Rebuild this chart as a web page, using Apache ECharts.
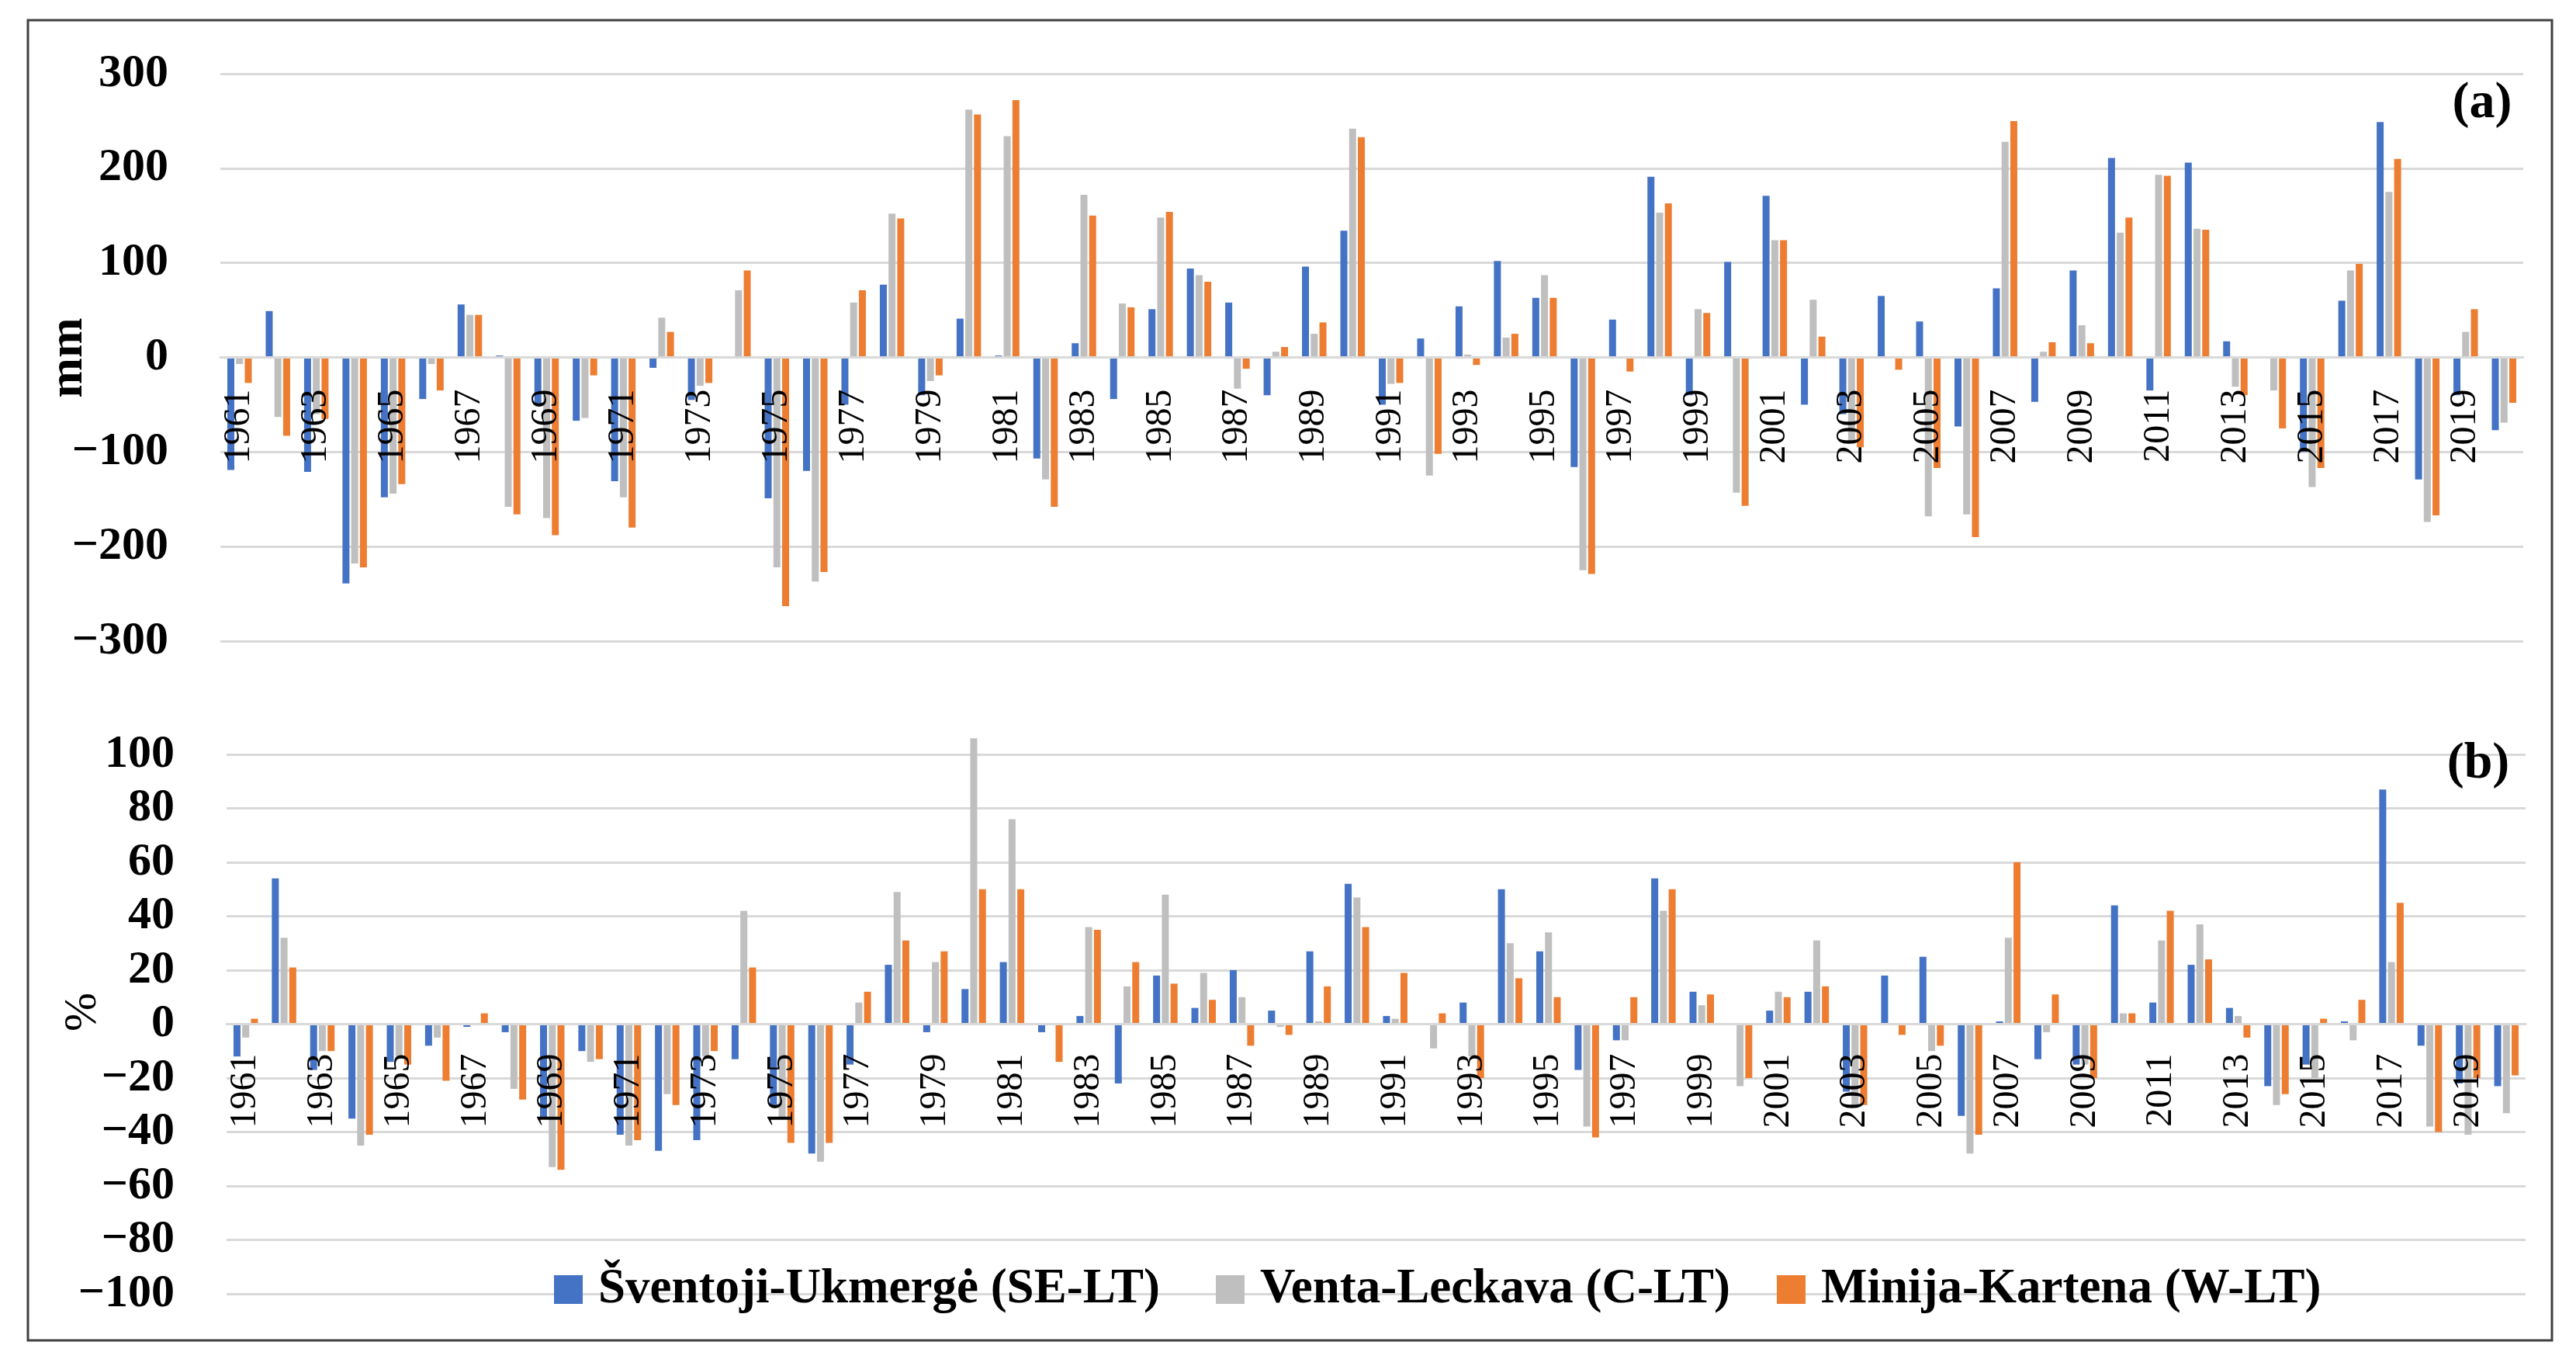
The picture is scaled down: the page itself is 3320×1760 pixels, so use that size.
<!DOCTYPE html>
<html>
<head>
<meta charset="utf-8">
<script src="https://cdn.jsdelivr.net/npm/echarts@6/dist/echarts.min.js"></script>
<style>
html,body{margin:0;padding:0;background:#fff;}
#chart{width:3320px;height:1760px;}
</style>
</head>
<body>
<div id="chart"></div>
<script>
const years = [];
for (let y = 1961; y <= 2020; y++) years.push(String(y));

const seriesNames = ['Šventoji-Ukmergė (SE-LT)', 'Venta-Leckava (C-LT)', 'Minija-Kartena (W-LT)'];

// Panel (a): anomalies, mm
const mmSE = [-119, 49, -121, -239, -148, -44, 56, 2, -50, -67,
  -131, -11, -45, -1, -149, -120, -50, 77, -40, 41,
  2, -107, 15, -44, 51, 94, 58, -40, 96, 134,
  -50, 20, 54, 102, 63, -116, 40, 191, -40, 101,
  171, -50, -60, 65, 38, -73, 73, -47, 92, 211,
  -35, 206, 17, 0, -100, 60, 249, -129, -40, -77];
const mmC = [-7, -63, -60, -218, -144, -7, 45, -158, -170, -64,
  -148, 42, -30, 71, -222, -237, 58, 152, -25, 262,
  234, -129, 172, 57, 148, 87, -33, 6, 25, 242,
  -28, -125, 3, 21, 87, -225, 1, 153, 51, -143,
  124, 61, -90, 0, -168, -166, 228, 6, 34, 132,
  193, 136, -31, -35, -137, 92, 175, -174, 27, -69];
const mmW = [-27, -83, -65, -222, -134, -35, 45, -166, -188, -19,
  -180, 27, -27, 92, -263, -227, 71, 147, -19, 257,
  272, -158, 150, 53, 154, 80, -12, 11, 37, 233,
  -27, -102, -8, 25, 63, -229, -15, 163, 47, -157,
  124, 22, -95, -13, -117, -190, 250, 16, 15, 148,
  192, 135, -40, -75, -117, 99, 210, -167, 51, -48];

// Panel (b): anomalies, %
const pctSE = [-12, 54, -17, -35, -14, -8, -1, -3, -35, -10,
  -41, -47, -43, -13, -30, -48, -15, 22, -3, 13,
  23, -3, 3, -22, 18, 6, 20, 5, 27, 52,
  3, 0, 8, 50, 27, -17, -6, 54, 12, 0,
  5, 12, -25, 18, 25, -34, 1, -13, -15, 44,
  8, 22, 6, -23, -15, 1, 87, -8, -22, -23];
const pctC = [-5, 32, -10, -45, -12, -5, 0, -24, -53, -14,
  -45, -26, -12, 42, -35, -51, 8, 49, 23, 106,
  76, 0, 36, 14, 48, 19, 10, -1, 1, 47,
  2, -9, -12, 30, 34, -38, -6, 42, 7, -23,
  12, 31, -30, 0, -10, -48, 32, -3, -15, 4,
  31, 37, 3, -30, -20, -6, 23, -38, -41, -33];
const pctW = [2, 21, -10, -41, -15, -21, 4, -28, -54, -13,
  -43, -30, -10, 21, -44, -44, 12, 31, 27, 50,
  50, -14, 35, 23, 15, 9, -8, -4, 14, 36,
  19, 4, -20, 17, 10, -42, 10, 50, 11, -20,
  10, 14, -30, -4, -8, -41, 60, 11, -20, 4,
  42, 24, -5, -26, 2, 9, 45, -40, -20, -19];

const mmTicks = {min: -300, max: 300, interval: 100};
const pctTicks = {min: -100, max: 100, interval: 20};

const colors = ['#4472C4', '#BFBFBF', '#ED7D31'];
const serif = '"Liberation Serif", "DejaVu Serif", serif';
const gridColor = '#D9D9D9';

// grid geometry
const gA = {left: 284, right: 68, top: 95, height: 731};
const gB = {left: 292, right: 65, top: 972, height: 695};

// axis sits on the zero line: shift up from grid bottom by the zero position
function zeroOffset(g, t) {
  return -g.height * (0 - t.min) / (t.max - t.min);
}

function xAxisCfg(gridIndex, margin, offset) {
  return {
    type: 'category', gridIndex: gridIndex, data: years, z: 10,
    position: 'bottom', offset: offset,
    axisTick: {show: false},
    axisLine: {show: true, onZero: false, lineStyle: {color: gridColor, width: 3}},
    axisLabel: {interval: 1, rotate: 90, margin: margin, color: '#000',
      fontFamily: serif, fontSize: 48}
  };
}
function yAxisCfg(gridIndex, t) {
  return {
    type: 'value', gridIndex: gridIndex, min: t.min, max: t.max, interval: t.interval,
    axisLine: {show: false}, axisTick: {show: false},
    splitLine: {lineStyle: {color: gridColor, width: 3}},
    axisLabel: {margin: 67, color: '#000', fontFamily: serif, fontWeight: 'bold', fontSize: 60,
      formatter: v => String(v).replace('-', '\u2212')}
  };
}
function bar(name, data, idx, axisIdx) {
  return {
    name: name, type: 'bar', data: data, xAxisIndex: axisIdx, yAxisIndex: axisIdx,
    barWidth: 9, barGap: '25%', clip: false, itemStyle: {color: colors[idx]}
  };
}
function legendItem(name, left) {
  return {
    left: left, top: 1625, itemWidth: 37, itemHeight: 37, icon: 'rect',
    data: [name],
    textStyle: {fontFamily: serif, fontWeight: 'bold', fontSize: 63, color: '#000', padding: [0, 0, 0, 15]}
  };
}

const chart = echarts.init(document.getElementById('chart'), null, {renderer: 'canvas'});
chart.setOption({
  backgroundColor: '#fff',
  animation: false,
  grid: [gA, gB],
  xAxis: [xAxisCfg(0, 41, zeroOffset(gA, mmTicks)), xAxisCfg(1, 38, zeroOffset(gB, pctTicks))],
  yAxis: [yAxisCfg(0, mmTicks), yAxisCfg(1, pctTicks)],
  legend: [
    legendItem(seriesNames[0], 709),
    legendItem(seriesNames[1], 1562),
    legendItem(seriesNames[2], 2285)
  ],
  series: [
    bar(seriesNames[0], mmSE, 0, 0),
    bar(seriesNames[1], mmC, 1, 0),
    bar(seriesNames[2], mmW, 2, 0),
    bar(seriesNames[0], pctSE, 0, 1),
    bar(seriesNames[1], pctC, 1, 1),
    bar(seriesNames[2], pctW, 2, 1)
  ],
  graphic: [
    {type: 'rect', shape: {x: 36, y: 26, width: 3253, height: 1701},
      style: {fill: 'none', stroke: '#404040', lineWidth: 3}, z: 0, silent: true},
    {type: 'text', x: 89, y: 461, rotation: Math.PI / 2,
      style: {text: 'mm', fontFamily: serif, fontWeight: 'bold', fontSize: 62, fill: '#000',
        textAlign: 'center', textVerticalAlign: 'middle'}},
    {type: 'text', x: 107, y: 1304, rotation: Math.PI / 2,
      style: {text: '%', fontFamily: serif, fontSize: 60, fill: '#000',
        textAlign: 'center', textVerticalAlign: 'middle'}},
    {type: 'text', x: 3199, y: 134, z: 20,
      style: {text: '(a)', fontFamily: serif, fontWeight: 'bold', fontSize: 66, fill: '#000',
        textAlign: 'center', textVerticalAlign: 'middle'}},
    {type: 'text', x: 3194, y: 985, z: 20,
      style: {text: '(b)', fontFamily: serif, fontWeight: 'bold', fontSize: 66, fill: '#000',
        textAlign: 'center', textVerticalAlign: 'middle'}}
  ]
});
</script>
</body>
</html>
